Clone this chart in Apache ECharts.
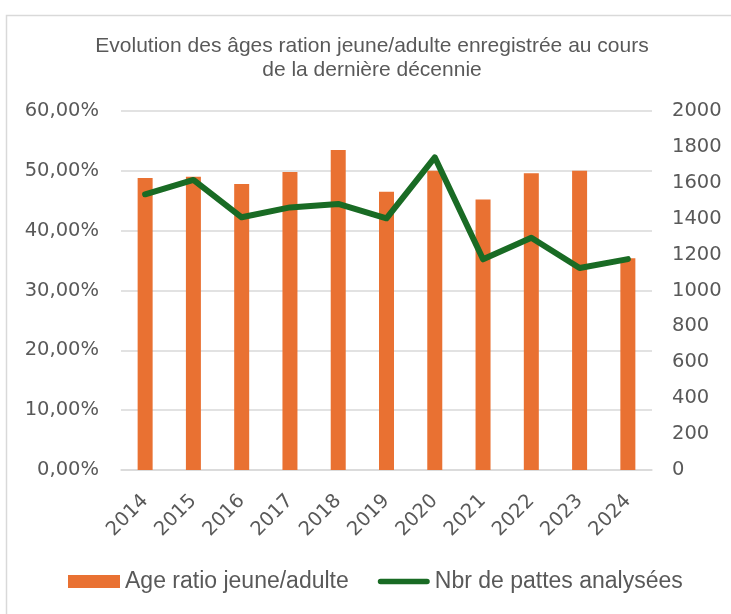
<!DOCTYPE html>
<html>
<head>
<meta charset="utf-8">
<script src="https://cdn.jsdelivr.net/npm/echarts@6/dist/echarts.min.js"></script>
<style>
html,body{margin:0;padding:0;background:#fff;}
#c{width:731px;height:614px;}
</style>
</head>
<body>
<div id="c"></div>
<script>
const years = ['2014','2015','2016','2017','2018','2019','2020','2021','2022','2023','2024'];
const ageRatio = [0.488, 0.490, 0.478, 0.498, 0.535, 0.465, 0.500, 0.452, 0.496, 0.500, 0.354];
const pattes = [1536, 1616, 1408, 1463, 1482, 1402, 1742, 1174, 1294, 1125, 1175];
const titleText = 'Evolution des âges ration jeune/adulte enregistrée au cours\nde la dernière décennie';
const seriesNames = ['Age ratio jeune/adulte', 'Nbr de pattes analysées'];

const chart = echarts.init(document.getElementById('c'), null, {renderer:'canvas'});
const txt = '#595959';
chart.setOption({
  backgroundColor:'#ffffff',
  animation:false,
  graphic:[{
    type:'rect', left:4, top:13, shape:{x:0,y:0,width:740,height:620},
    style:{fill:'none', stroke:'#d9d9d9', lineWidth:1.5}, silent:true, z:-1
  },{
    type:'text', x:372, y:34, silent:true,
    style:{text:titleText, textAlign:'center', textVerticalAlign:'top',
      font:'21px "Liberation Sans"', fill:txt, lineHeight:24}
  }],
  legend:{
    left:68, top:570, padding:0, itemWidth:52, itemHeight:13, itemGap:29,
    textStyle:{fontFamily:'Liberation Sans', fontSize:23, color:txt},
    data:[
      {name:seriesNames[0], icon:'rect'},
      {name:seriesNames[1], icon:'path://M3,0 L53,0 A3,3 0 0 1 53,6 L3,6 A3,3 0 0 1 3,0 Z', itemStyle:{color:'#196B24'}}
    ]
  },
  grid:{left:121, right:79, top:111, bottom:144, containLabel:false},
  xAxis:{
    type:'category', data:years,
    axisLine:{lineStyle:{color:'#d9d9d9', width:1.5}},
    axisTick:{show:false},
    axisLabel:{rotate:45, margin:28, color:txt, fontFamily:'DejaVu Sans', fontSize:19.5, interval:0}
  },
  yAxis:[{
    type:'value', min:0, max:0.6, interval:0.1,
    axisLine:{show:false}, axisTick:{show:false},
    splitLine:{lineStyle:{color:'#d9d9d9', width:1.5}},
    axisLabel:{margin:22, color:txt, fontFamily:'DejaVu Sans', fontSize:19.5,
      formatter:v => (v*100).toFixed(2).replace('.', ',') + '%'}
  },{
    type:'value', min:0, max:2000, interval:200, position:'right',
    axisLine:{show:false}, axisTick:{show:false}, splitLine:{show:false},
    axisLabel:{margin:20, color:txt, fontFamily:'DejaVu Sans', fontSize:19.5,
      formatter:v => String(v)}
  }],
  series:[{
    name:seriesNames[0], type:'bar', data:ageRatio, yAxisIndex:0,
    barWidth:15, itemStyle:{color:'#E97132'}
  },{
    name:seriesNames[1], type:'line', data:pattes, yAxisIndex:1,
    showSymbol:false, symbol:'none',
    lineStyle:{color:'#196B24', width:6, cap:'round', join:'round'},
    itemStyle:{color:'#196B24'}
  }]
});
</script>
</body>
</html>
